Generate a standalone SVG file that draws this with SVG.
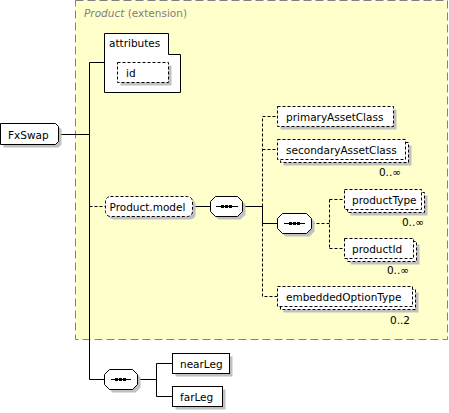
<svg xmlns="http://www.w3.org/2000/svg" width="449" height="413" viewBox="0 0 449 413">
<style>
.box{fill:#fff;stroke:#000;stroke-width:1}
.dbox{fill:#fff;stroke:#000;stroke-width:1;stroke-dasharray:3,2}
.sh{fill:#c0c0c0;stroke:none}
.ln{fill:none;stroke:#000;stroke-width:1}
.dl{fill:none;stroke:#000;stroke-width:1;stroke-dasharray:3,2}
.t{font-family:"DejaVu Sans",Verdana,sans-serif;font-size:10.5px;fill:#000}
.m{font-family:"DejaVu Sans",Verdana,sans-serif;font-size:10.5px;fill:#000;text-anchor:end}
.dot{fill:#000}
</style>
<g id="extension">
<rect x="75.5" y="0.5" width="372" height="339" fill="#ffffcc" stroke="#808080" stroke-dasharray="8,4"/>
<text x="84" y="17" style="font-family:'DejaVu Sans',Verdana,sans-serif;font-size:10.5px;fill:#808080"><tspan font-style="italic">Product</tspan> (extension)</text>
</g>
<g id="connectors">
<path class="ln" d="M58.5,134.5 H89.5 M89.5,62.5 V379.5 M89.5,62.5 H104.5 M89.5,379.5 H104.5"/>
<path class="dl" d="M89.5,206.5 H105.5"/>
<path class="ln" d="M192.5,206.5 H210.5 M242.5,206.5 H262.5 V223.5 H277.5"/>
<path class="dl" d="M262.5,206.5 V116.5 H277.5 M262.5,149.5 H277.5 M262.5,223.5 V296.5 H277.5"/>
<path class="dl" d="M311.5,223.5 H329.5 M329.5,199.5 V248.5 M329.5,199.5 H344.5 M329.5,248.5 H344.5"/>
<path class="ln" d="M137.5,379.5 H156.5 M156.5,363.5 V396.5 M156.5,363.5 H172.5 M156.5,396.5 H172.5"/>
</g>
<g id="FxSwap">
<path class="sh" d="M3.5,126.5 H58.5 L61.5,129.5 V144.5 L58.5,147.5 H3.5 Z"/>
<path class="box" d="M0.5,123.5 H55.5 L58.5,126.5 V141.5 L55.5,144.5 H0.5 Z"/>
<text class="t" x="8" y="138.5">FxSwap</text>
</g>
<g id="attributes">
<path class="box" d="M104.5,33.5 H168.5 V54.5 H180.5 V92.5 H104.5 Z"/>
<text class="t" x="109" y="47">attributes</text>
</g>
<g id="id">
<rect class="sh" x="120.5" y="65.5" width="51" height="20"/>
<rect class="dbox" x="117.5" y="62.5" width="51" height="20"/>
<text class="t" x="126" y="76.5">id</text>
</g>
<g id="Product.model">
<rect class="sh" x="108.5" y="199.5" width="87" height="20" rx="5"/>
<rect class="dbox" x="105.5" y="196.5" width="87" height="20" rx="5"/>
<text class="t" x="109.5" y="210.5">Product.model</text>
</g>
<g id="sequence1">
<path class="sh" d="M218.5,199.5 H240.5 L245.5,204.5 V214.5 L240.5,219.5 H218.5 L213.5,214.5 V204.5 Z"/>
<path class="box" d="M215.5,196.5 H237.5 L242.5,201.5 V211.5 L237.5,216.5 H215.5 L210.5,211.5 V201.5 Z"/>
<path class="ln" d="M216,206.5 H238"/>
<rect class="dot" x="221" y="205" width="3" height="3"/><rect class="dot" x="225" y="205" width="3" height="3"/><rect class="dot" x="229" y="205" width="3" height="3"/>
</g>
<g id="primaryAssetClass">
<rect class="sh" x="280.5" y="109.5" width="116" height="20"/>
<rect class="dbox" x="277.5" y="106.5" width="116" height="20"/>
<text class="t" x="286" y="120.5">primaryAssetClass</text>
</g>
<g id="secondaryAssetClass">
<rect class="sh" x="283.5" y="145.5" width="128" height="20"/>
<rect class="dbox" x="280.5" y="142.5" width="128" height="20"/>
<rect class="dbox" x="277.5" y="139.5" width="128" height="20"/>
<text class="t" x="286" y="153.5">secondaryAssetClass</text>
<text class="m" x="401" y="176">0..∞</text>
</g>
<g id="sequence2">
<path class="sh" d="M285.5,216.5 H309.5 L314.5,221.5 V231.5 L309.5,236.5 H285.5 L280.5,231.5 V221.5 Z"/>
<path class="box" d="M282.5,213.5 H306.5 L311.5,218.5 V228.5 L306.5,233.5 H282.5 L277.5,228.5 V218.5 Z"/>
<path class="ln" d="M284,223.5 H305"/>
<rect class="dot" x="289" y="222" width="3" height="3"/><rect class="dot" x="293" y="222" width="3" height="3"/><rect class="dot" x="297" y="222" width="3" height="3"/>
</g>
<g id="productType">
<rect class="sh" x="350.5" y="195.5" width="77" height="20"/>
<rect class="dbox" x="347.5" y="192.5" width="77" height="20"/>
<rect class="dbox" x="344.5" y="189.5" width="77" height="20"/>
<text class="t" x="352" y="203.5">productType</text>
<text class="m" x="424" y="226">0..∞</text>
</g>
<g id="productId">
<rect class="sh" x="350.5" y="244.5" width="69" height="20"/>
<rect class="dbox" x="347.5" y="241.5" width="69" height="20"/>
<rect class="dbox" x="344.5" y="238.5" width="69" height="20"/>
<text class="t" x="352" y="252.5">productId</text>
<text class="m" x="409" y="274">0..∞</text>
</g>
<g id="embeddedOptionType">
<rect class="sh" x="283.5" y="292.5" width="135" height="20"/>
<rect class="dbox" x="280.5" y="289.5" width="135" height="20"/>
<rect class="dbox" x="277.5" y="286.5" width="135" height="20"/>
<text class="t" x="286" y="300.5">embeddedOptionType</text>
<text class="m" x="410" y="324">0..2</text>
</g>
<g id="sequence3">
<path class="sh" d="M112.5,372.5 H135.5 L140.5,377.5 V387.5 L135.5,392.5 H112.5 L107.5,387.5 V377.5 Z"/>
<path class="box" d="M109.5,369.5 H132.5 L137.5,374.5 V384.5 L132.5,389.5 H109.5 L104.5,384.5 V374.5 Z"/>
<path class="ln" d="M111,379.5 H131"/>
<rect class="dot" x="115" y="378" width="3" height="3"/><rect class="dot" x="119" y="378" width="3" height="3"/><rect class="dot" x="123" y="378" width="3" height="3"/>
</g>
<g id="nearLeg">
<rect class="sh" x="175.5" y="356.5" width="57" height="20"/>
<rect class="box" x="172.5" y="353.5" width="57" height="20"/>
<text class="t" x="180" y="367.5">nearLeg</text>
</g>
<g id="farLeg">
<rect class="sh" x="175.5" y="389.5" width="50" height="20"/>
<rect class="box" x="172.5" y="386.5" width="50" height="20"/>
<text class="t" x="180" y="400.5">farLeg</text>
</g>
</svg>
